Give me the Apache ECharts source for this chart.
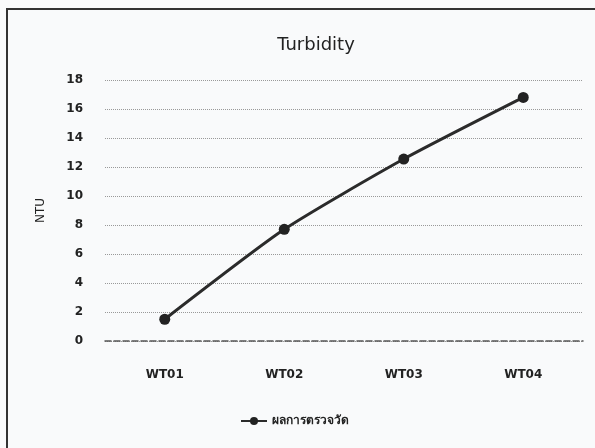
<!DOCTYPE html>
<html>
<head>
<meta charset="utf-8">
<script src="https://cdn.jsdelivr.net/npm/echarts@6/dist/echarts.min.js"></script>
<style>
  html, body { margin: 0; padding: 0; background: #f9fafb; }
  #main { width: 595px; height: 448px; }
</style>
</head>
<body>
<div id="main"></div>
<script>
// ข้อมูล
var categories = ['WT01', 'WT02', 'WT03', 'WT04'];
var values = [1.5, 7.7, 12.55, 16.8];
var seriesName = 'ผลการตรวจวัด';

var chartDom = document.getElementById('main');
var myChart = echarts.init(chartDom);

var fontFam = '"DejaVu Sans", Verdana, sans-serif';

var option = {
  backgroundColor: '#f9fafb',
  animation: false,
  title: {
    text: 'Turbidity',
    left: 311,
    textAlign: 'center',
    top: 31,
    textStyle: { fontFamily: fontFam, fontSize: 18, fontWeight: 'normal', color: '#222' }
  },
  graphic: [
    {
      type: 'rect',
      shape: { x: 7, y: 9, width: 700, height: 600 },
      style: { fill: 'none', stroke: '#333', lineWidth: 2 }
    }
  ],
  legend: {
    data: [seriesName],
    left: 240,
    top: 415,
    padding: 0,
    itemWidth: 26,
    itemHeight: 10,
    textStyle: { fontFamily: fontFam, fontSize: 12, fontWeight: 'bold', color: '#222' }
  },
  grid: { left: 105, right: 12, top: 80, bottom: 107 },
  xAxis: {
    type: 'category',
    data: categories,
    axisLine: { lineStyle: { color: '#555', width: 1.5, type: 'dashed' } },
    axisTick: { show: false },
    axisLabel: { margin: 28, fontFamily: fontFam, fontSize: 12, fontWeight: 'bold', color: '#222' }
  },
  yAxis: {
    type: 'value',
    min: 0,
    max: 18,
    interval: 2,
    name: 'NTU',
    nameLocation: 'middle',
    nameGap: 58,
    nameTextStyle: { fontFamily: fontFam, fontSize: 12, color: '#222' },
    axisLine: { show: false },
    axisTick: { show: false },
    axisLabel: { margin: 22, fontFamily: fontFam, fontSize: 12, fontWeight: 'bold', color: '#222' },
    splitLine: { lineStyle: { color: '#999', type: 'dotted', width: 1 } }
  },
  series: [
    {
      name: seriesName,
      type: 'line',
      data: values,
      smooth: 0.2,
      symbol: 'circle',
      symbolSize: 11,
      lineStyle: { color: '#2b2b2b', width: 3 },
      itemStyle: { color: '#222' }
    }
  ]
};

myChart.setOption(option);
</script>
</body>
</html>
